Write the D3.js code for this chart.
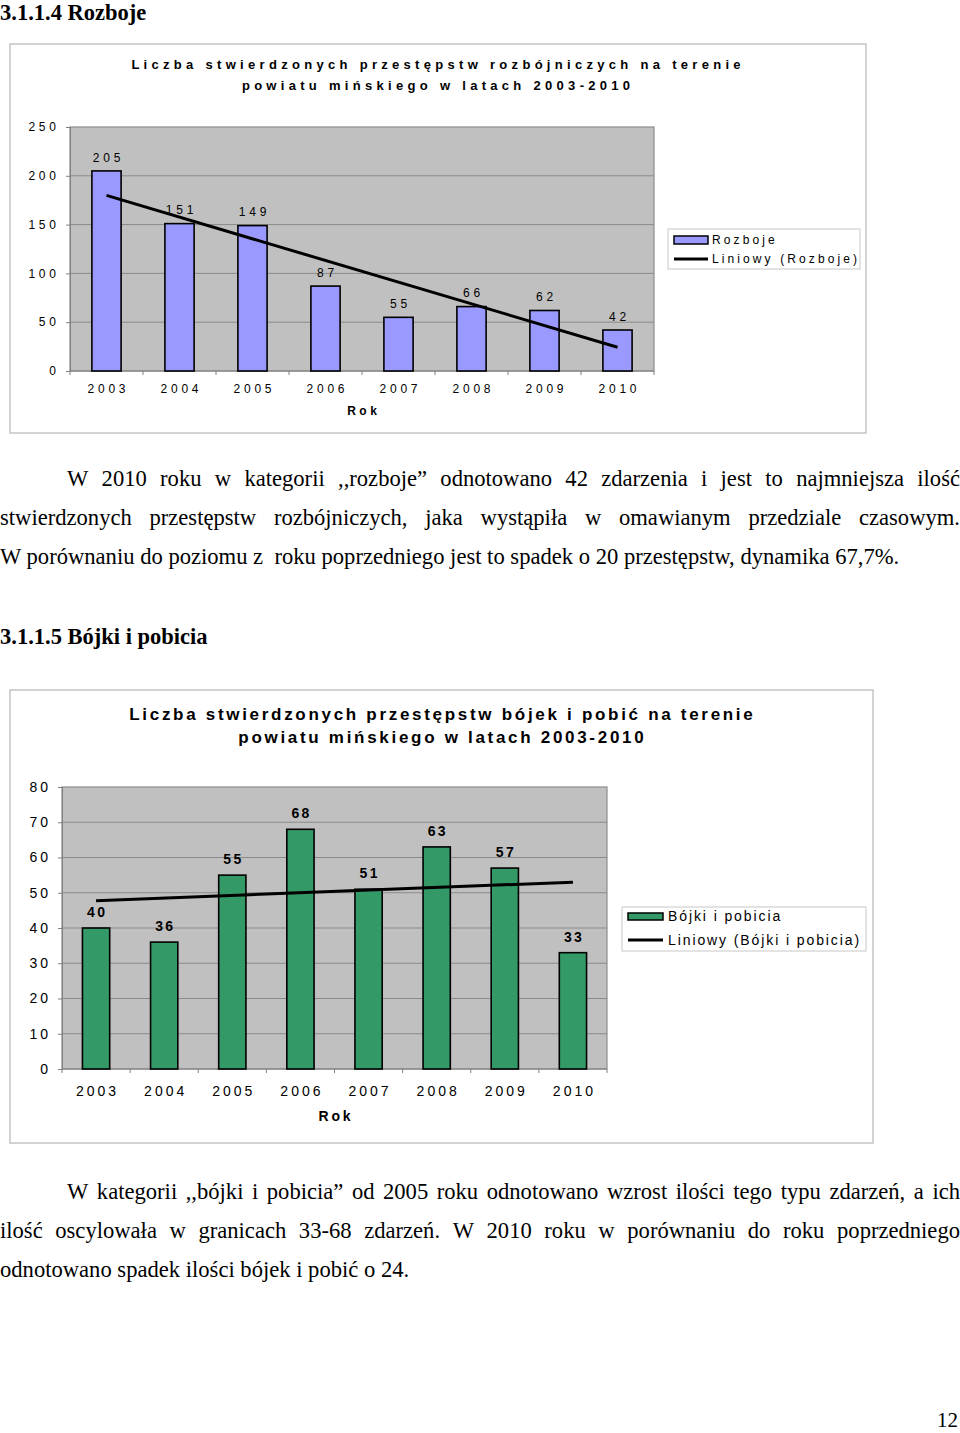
<!DOCTYPE html>
<html><head><meta charset="utf-8">
<script src="https://cdn.jsdelivr.net/npm/d3@7"></script>
<style>body{margin:0;background:#fff}svg{display:block}</style>
</head><body>
<svg id="page" width="960" height="1433"></svg>
<script>
// ---- data ----
const years = ["2003","2004","2005","2006","2007","2008","2009","2010"];
const rozbojeValues = [205,151,149,87,55,66,62,42];
const bojkiValues = [40,36,55,68,51,63,57,33];
const rozbojeTicks = [0,50,100,150,200,250];
const bojkiTicks = [0,10,20,30,40,50,60,70,80];
const rozbojeTitle = ["Liczba stwierdzonych przestępstw rozbójniczych na terenie","powiatu mińskiego w latach 2003-2010"];
const bojkiTitle = ["Liczba stwierdzonych przestępstw bójek i pobić na terenie","powiatu mińskiego w latach 2003-2010"];
const rozbojeLegend = ["Rozboje","Liniowy (Rozboje)"];
const bojkiLegend = ["Bójki i pobicia","Liniowy (Bójki i pobicia)"];
const xAxisTitle = "Rok";
const heading1 = "3.1.1.4 Rozboje";
const heading2 = "3.1.1.5 Bójki i pobicia";
const para1 = ["W 2010 roku w kategorii ,,rozboje” odnotowano 42 zdarzenia i jest to najmniejsza ilość",
  "stwierdzonych przestępstw rozbójniczych, jaka wystąpiła w omawianym przedziale czasowym.",
  "W porównaniu do poziomu z  roku poprzedniego jest to spadek o 20 przestępstw, dynamika 67,7%."];
const para2 = ["W kategorii ,,bójki i pobicia” od 2005 roku odnotowano wzrost ilości tego typu zdarzeń, a ich",
  "ilość oscylowała w granicach 33-68 zdarzeń. W 2010 roku w porównaniu do roku poprzedniego",
  "odnotowano spadek ilości bójek i pobić o 24."];
const pageNumber = "12";

const svg = d3.select("#page");
const SANS = "Liberation Sans, Arial, sans-serif";
const SERIF = "Liberation Serif, Times New Roman, serif";

function txt(g, x, y, s, o) {
  o = o || {};
  const ls = o.ls || 0;
  const anchor = o.anchor || "start";
  let dx = 0;
  if (anchor === "middle") dx = ls/2; else if (anchor === "end") dx = ls;
  return g.append("text").attr("x", x + dx).attr("y", y)
    .attr("dy", o.dy == null ? "0.35em" : o.dy)
    .attr("text-anchor", anchor)
    .attr("font-family", o.family || SANS)
    .attr("font-size", o.size || 12)
    .attr("font-weight", o.bold ? "bold" : "normal")
    .attr("letter-spacing", ls)
    .attr("fill", "#000")
    .attr("xml:space", "preserve")
    .text(s);
}

function regression(vals) {
  const n = vals.length, mx = (n-1)/2, my = d3.mean(vals);
  let sxy = 0, sxx = 0;
  vals.forEach((v,i)=>{ sxy += (i-mx)*(v-my); sxx += (i-mx)*(i-mx); });
  const b = sxy/sxx, a = my - b*mx;
  return i => a + b*i;
}

function drawChart(c) {
  const g = svg.append("g");
  g.append("rect").attr("x", c.frame[0]).attr("y", c.frame[1]).attr("width", c.frame[2]).attr("height", c.frame[3])
    .attr("fill", "#fff").attr("stroke", "#c4c4c4").attr("stroke-width", 1.5);
  const x = d3.scaleBand().domain(years).range([c.plot[0], c.plot[1]]).padding(0);
  const y = d3.scaleLinear().domain([0, c.max]).range([c.plot[3], c.plot[2]]);
  g.append("rect").attr("x", c.plot[0]).attr("y", c.plot[2]).attr("width", c.plot[1]-c.plot[0]).attr("height", c.plot[3]-c.plot[2])
    .attr("fill", "#c0c0c0").attr("stroke", "#8c8c8c").attr("stroke-width", 1.2);
  g.selectAll(".grid").data(c.ticks.filter(t=>t>0 && t<c.max)).enter().append("line")
    .attr("x1", c.plot[0]).attr("x2", c.plot[1]).attr("y1", d=>y(d)).attr("y2", d=>y(d))
    .attr("stroke", "#8a8a8a").attr("stroke-width", 1);
  const ya = d3.axisLeft(y).tickValues(c.ticks).tickSize(4).tickFormat("");
  const yg = g.append("g").attr("transform", `translate(${c.plot[0]},0)`).call(ya);
  yg.selectAll("path,line").attr("stroke", "#808080");
  c.ticks.forEach(t => txt(g, c.plot[0]-14, y(t), String(t), {anchor:"end", size:c.tickSize, ls:c.tickLs}));
  const xb = g.append("g");
  xb.append("line").attr("x1", c.plot[0]).attr("x2", c.plot[1]).attr("y1", c.plot[3]).attr("y2", c.plot[3]).attr("stroke", "#808080").attr("stroke-width", 1.2);
  const bounds = years.map(d=>x(d)).concat([x(years[years.length-1]) + x.bandwidth()]);
  xb.selectAll("line.tk").data(bounds).enter().append("line").attr("class","tk")
    .attr("x1", d=>d).attr("x2", d=>d).attr("y1", c.plot[3]).attr("y2", c.plot[3]+4).attr("stroke", "#808080");
  years.forEach(yr => txt(g, x(yr)+x.bandwidth()/2, c.plot[3]+c.xLabelOff, yr, {anchor:"middle", size:c.tickSize, ls:c.tickLs}));
  txt(g, (c.plot[0]+c.plot[1])/2, c.plot[3]+c.rokOff, xAxisTitle, {anchor:"middle", size:c.rokSize, ls:c.rokLs, bold:true});
  const bw = x.bandwidth()*0.4;
  g.selectAll(".bar").data(c.values).enter().append("rect")
    .attr("x", (d,i)=>x(years[i]) + (x.bandwidth()-bw)/2).attr("width", bw)
    .attr("y", d=>y(d)).attr("height", d=>y(0)-y(d))
    .attr("fill", c.color).attr("stroke", "#000").attr("stroke-width", 1.6);
  const f = regression(c.values);
  const line = d3.line().x(d=>x(years[d])+x.bandwidth()/2).y(d=>y(f(d)));
  g.append("path").attr("d", line([0, years.length-1])).attr("stroke", "#000").attr("stroke-width", 3).attr("fill","none");
  c.values.forEach((v,i) => txt(g, x(years[i])+x.bandwidth()/2, y(v)-c.labelOff, String(v), {anchor:"middle", size:c.labelSize, ls:c.labelLs, bold:c.labelBold}));
  c.title.forEach((t,i) => txt(g, c.titleX, c.titleY[i], t, {anchor:"middle", size:c.titleSize, ls:c.titleLs, bold:true}));
  const L = c.legend;
  g.append("rect").attr("x", L.box[0]).attr("y", L.box[1]).attr("width", L.box[2]).attr("height", L.box[3])
    .attr("fill", "#fff").attr("stroke", "#c8c8c8").attr("stroke-width", 1);
  g.append("rect").attr("x", L.sw[0]).attr("y", L.sw[1]).attr("width", L.sw[2]).attr("height", L.sw[3])
    .attr("fill", c.color).attr("stroke", "#000").attr("stroke-width", 1.5);
  g.append("line").attr("x1", L.sw[0]).attr("x2", L.sw[0]+L.sw[2]).attr("y1", L.lineY).attr("y2", L.lineY)
    .attr("stroke", "#000").attr("stroke-width", 3);
  txt(g, L.textX, L.sw[1]+L.sw[3]/2, c.legendText[0], {size:L.size, ls:L.ls});
  txt(g, L.textX, L.lineY, c.legendText[1], {size:L.size, ls:L.ls});
}

drawChart({
  frame:[10,44,856,389], plot:[70,654,127,371], max:250, ticks:rozbojeTicks, values:rozbojeValues,
  color:"#9999ff", tickSize:12, tickLs:3.8, xLabelOff:18, rokOff:40, rokSize:12, rokLs:3.5,
  labelOff:13.5, labelSize:12, labelLs:3.8, labelBold:false,
  title:rozbojeTitle, titleX:436, titleY:[64,85], titleSize:13, titleLs:4.3,
  legendText:rozbojeLegend,
  legend:{box:[668,229,192,40], sw:[674,236,34,8], lineY:259, textX:712, size:12, ls:3.1}
});
drawChart({
  frame:[10,690,863,453], plot:[62,607,787,1069], max:80, ticks:bojkiTicks, values:bojkiValues,
  color:"#339966", tickSize:14, tickLs:3, xLabelOff:22, rokOff:47, rokSize:14, rokLs:2.8,
  labelOff:16, labelSize:14, labelLs:2.4, labelBold:true,
  title:bojkiTitle, titleX:441, titleY:[714,737], titleSize:17, titleLs:2.7,
  legendText:bojkiLegend,
  legend:{box:[622,907,244,44], sw:[628,913,35,7], lineY:940, textX:668, size:14, ls:1.9}
});

const TS = 22.6;
txt(svg, 0, 20, heading1, {family:SERIF, size:22.5, bold:true, dy:0});
txt(svg, 0, 644, heading2, {family:SERIF, size:22.5, bold:true, dy:0});

function paragraph(lines, y0, lh) {
  lines.forEach((ln, i) => {
    const y = y0 + i*lh;
    const x0 = i === 0 ? 67 : 0, x1 = 960;
    if (i === lines.length-1) { txt(svg, x0, y, ln, {family:SERIF, size:TS, dy:0}); return; }
    const words = ln.split(" ");
    const nodes = words.map(w => txt(svg, 0, y, w, {family:SERIF, size:TS, dy:0}));
    const widths = nodes.map(n => n.node().getComputedTextLength());
    const gap = (x1 - x0 - d3.sum(widths)) / (words.length - 1);
    let cx = x0;
    nodes.forEach((n, k) => { n.attr("x", cx); cx += widths[k] + gap; });
  });
}
paragraph(para1, 486, 39);
paragraph(para2, 1199, 39);
txt(svg, 958, 1427, pageNumber, {family:SERIF, size:21, dy:0, anchor:"end"});
</script>
</body></html>
